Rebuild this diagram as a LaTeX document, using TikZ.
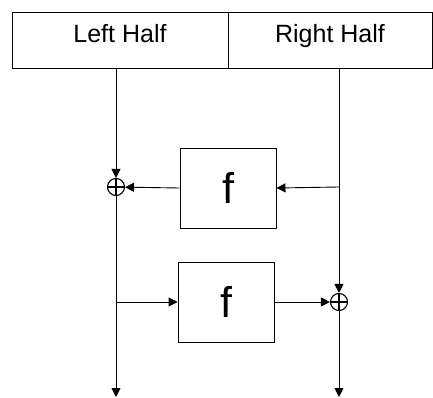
\documentclass[tikz,border=0pt]{standalone}
\usepackage{fontspec}
\setmainfont{Liberation Sans}
\usetikzlibrary{arrows.meta}
\begin{document}
\begin{tikzpicture}[x=1pt,y=-1pt,
  line/.style={line width=0.9pt},
  arr/.style={line, -{Triangle[length=9pt,width=9pt]}},
  half/.style={draw,line width=0.9pt,minimum height=56pt,inner sep=0pt,text height=18pt,text depth=12pt,font=\fontsize{25}{25}\selectfont},
  fbox/.style={draw,line width=0.9pt,minimum width=96pt,minimum height=80pt,inner sep=0pt,font=\fontsize{43}{43}\selectfont},
  xor/.style={circle,draw,line width=1.1pt,minimum size=17pt,inner sep=0pt,
    path picture={\draw[line width=1.1pt] (path picture bounding box.north) -- (path picture bounding box.south)
      (path picture bounding box.west) -- (path picture bounding box.east);}}]
\useasboundingbox (0,0) rectangle (433,398);
\node[half,minimum width=216pt] (L) at (120,40) {Left Half};
\node[half,minimum width=204pt] (R) at (330,40) {Right Half};
\node[fbox] (f1) at (228,188) {f};
\node[fbox] (f2) at (226,302) {f};
\node[xor] (x1) at (116,187) {};
\node[xor] (x2) at (339,302) {};
\coordinate (lt) at (116,68);
\coordinate (rt) at (339,68);
\coordinate (rb) at (339,187);
\coordinate (lb) at (116,302);
\coordinate (lend) at (116,397);
\coordinate (rend) at (339,397);
\draw[arr] (lt) -- (x1);
\draw[arr] (rt) -- (x2);
\draw[arr] (rb) -- (f1.east);
\draw[arr] (f1.west) -- (x1);
\draw[arr] (lb) -- (f2.west);
\draw[arr] (f2.east) -- (x2);
\draw[arr] (x1.south) -- (lend);
\draw[arr] (x2.south) -- (rend);
\end{tikzpicture}
\end{document}
